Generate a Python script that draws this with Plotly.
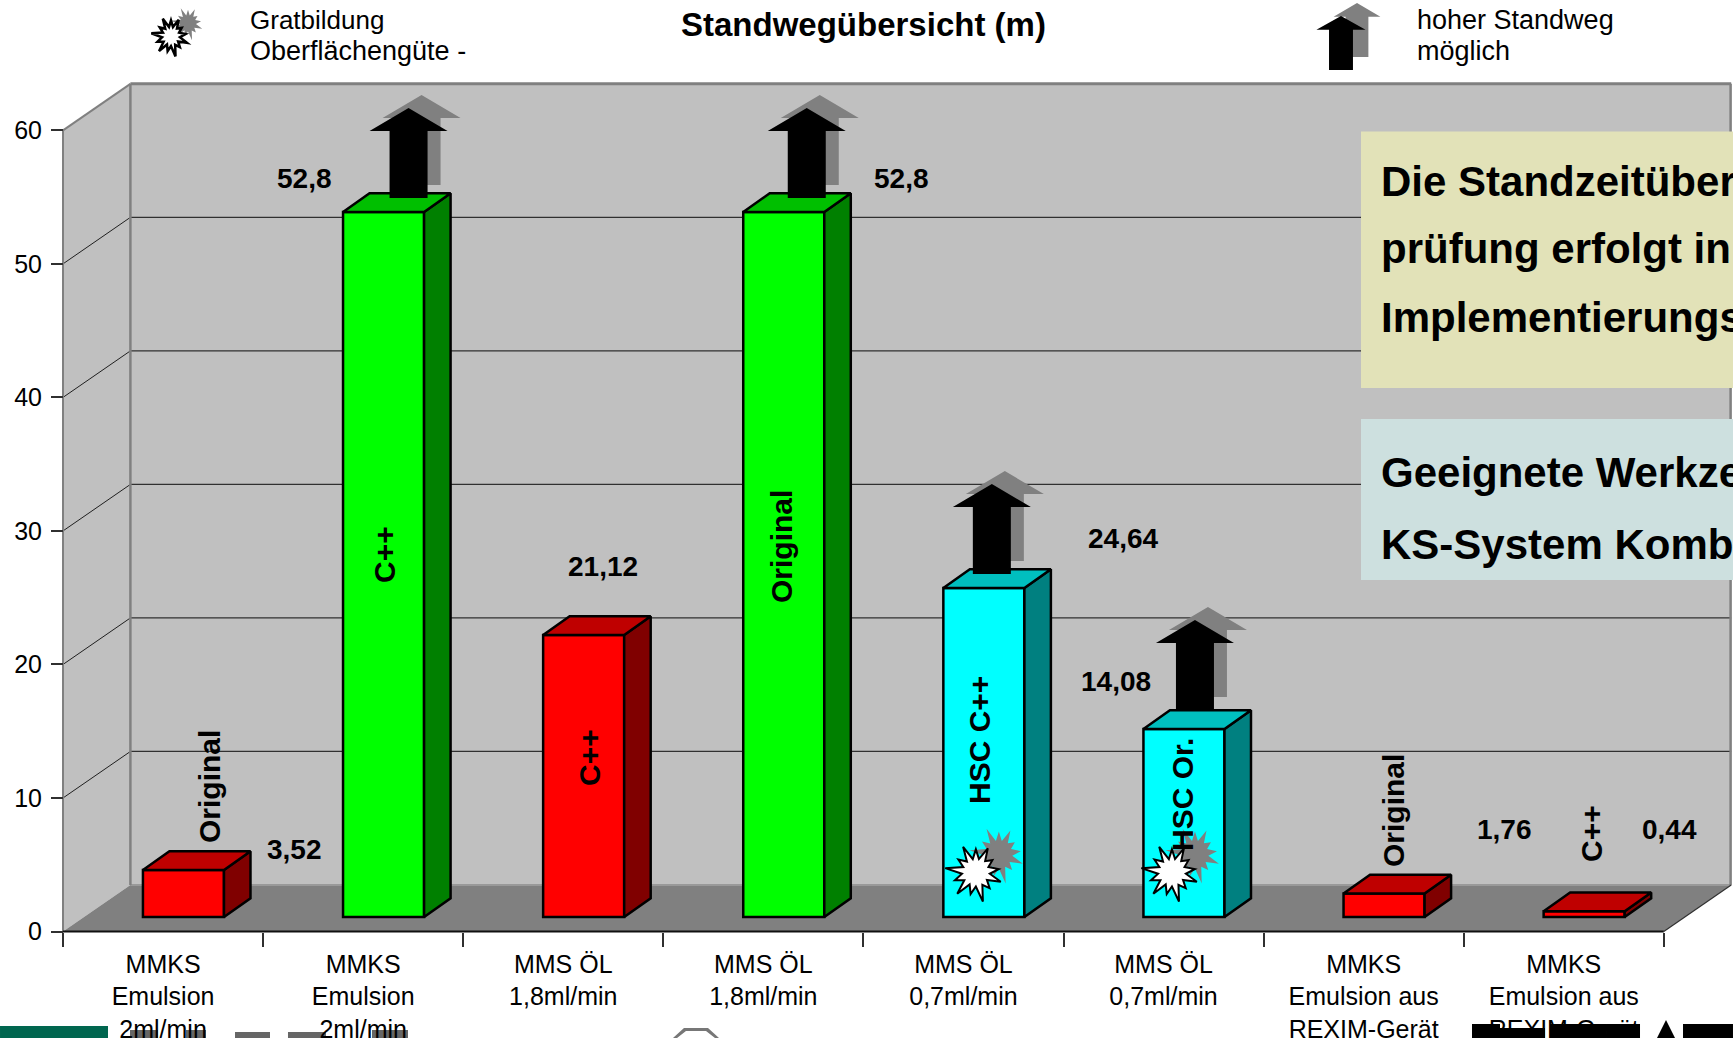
import math
import plotly.graph_objects as go

# Chart data
categories = [
    "MMKS<br>Emulsion<br>2ml/min", "MMKS<br>Emulsion<br>2ml/min",
    "MMS ÖL<br>1,8ml/min", "MMS ÖL<br>1,8ml/min",
    "MMS ÖL<br>0,7ml/min", "MMS ÖL<br>0,7ml/min",
    "MMKS<br>Emulsion aus<br>REXIM-Gerät", "MMKS<br>Emulsion aus<br>REXIM-Gerät",
]
values = [3.52, 52.8, 21.12, 52.8, 24.64, 14.08, 1.76, 0.44]
tools = ["Original", "C++", "C++", "Original", "HSC C++", "HSC Or.", "Original", "C++"]
families = ["red", "green", "red", "green", "cyan", "cyan", "red", "red"]
y_ticks = [0, 10, 20, 30, 40, 50, 60]

# Page and axis geometry
W, H = 1733, 1038
X0, CAT_W = 63.0, 200.1
Y0, UNIT_H = 931.5, 13.353
BAR_SHIFT, BAR_W, BAR_BASE = 0.602, 0.405, 1.08
BAR_DX, BAR_DY = 26.5 / CAT_W, 18.8 / UNIT_H
WALL_DX, WALL_DY = 67.4 / CAT_W, 46.5 / UNIT_H
X_END = 8 + WALL_DX
FONT = "Liberation Sans"

FACE = {
    "red": ("#ff0000", "#bf0000", "#800000"),
    "green": ("#00ff00", "#00bf00", "#008000"),
    "cyan": ("#00ffff", "#00bfbf", "#008080"),
}
ARROW_OUTLINE = [(0, 0), (39, 23), (19, 23), (19, 90), (-19, 90), (-19, 23), (-39, 23)]
BURST_RADII = [0.78, 0.46, 0.92, 0.5, 0.72, 0.48, 0.82, 0.5, 0.95, 0.48, 0.74, 0.5,
               1.05, 0.5, 0.78, 0.48, 1.0, 0.5, 0.8, 0.5, 1.1, 0.48, 0.76, 0.48, 0.98, 0.46]


def ux(px):
    return (px - X0) / CAT_W


def uy(px):
    return (Y0 - px) / UNIT_H


def poly(points):
    return "M " + " L ".join(f"{x:.4f},{y:.4f}" for x, y in points) + " Z"


def area(points, fill, line=None, width=0, layer="below"):
    return dict(type="path", xref="x", yref="y", path=poly(points), fillcolor=fill,
                line=dict(color=line or fill, width=width), layer=layer)


def rule(x0, y0, x1, y1, color, width, layer="below"):
    return dict(type="line", xref="x", yref="y", x0=x0, y0=y0, x1=x1, y1=y1,
                line=dict(color=color, width=width), layer=layer)


def arrow(px_x, px_y, fill, sx=1.0, sy=1.0):
    """Block arrow with its tip at the given page position."""
    return area([(ux(px_x + a * sx), uy(px_y + b * sy)) for a, b in ARROW_OUTLINE], fill, layer="above")


def burst(cx, cy, rx, ry, fill, line=None, width=0):
    n = len(BURST_RADII)
    pts = []
    for i, r in enumerate(BURST_RADII):
        a = 2 * math.pi * i / n
        pts.append((ux(cx + rx * r * math.sin(a)), uy(cy - ry * r * math.cos(a))))
    return area(pts, fill, line, width, "above")


shapes = []

# Walls and floor of the chart box
shapes += [
    area([(WALL_DX, WALL_DY), (X_END, WALL_DY), (X_END, 60 + WALL_DY), (WALL_DX, 60 + WALL_DY)], "#c0c0c0"),
    area([(0, 0), (WALL_DX, WALL_DY), (WALL_DX, 60 + WALL_DY), (0, 60)], "#c0c0c0"),
    area([(0, 0), (8, 0), (X_END, WALL_DY), (WALL_DX, WALL_DY)], "#808080"),
]
for t in y_ticks[1:-1]:
    shapes.append(rule(WALL_DX, t + WALL_DY, X_END, t + WALL_DY, "#303030", 1.2))
    shapes.append(rule(0, t, WALL_DX, t + WALL_DY, "#202020", 1))
shapes += [
    rule(WALL_DX, WALL_DY, X_END, WALL_DY, "#999999", 2),
    rule(0, 60, WALL_DX, 60 + WALL_DY, "#808080", 2),
    rule(0, 0, 0, 60, "#808080", 2),
    rule(WALL_DX, WALL_DY, WALL_DX, 60 + WALL_DY, "#808080", 2.5),
    rule(WALL_DX, 60 + WALL_DY, X_END, 60 + WALL_DY, "#808080", 3),
    rule(X_END - 0.003, WALL_DY, X_END - 0.003, 60 + WALL_DY, "#808080", 2.5),
    rule(0, 0, 8, 0, "#101010", 2),
    rule(8, 0, X_END, WALL_DY, "#303030", 1.2),
]

# Logo fragments along the lower page edge
for x0, x1, y0, color, layer in [
    (0, 108, 1026, "#00664f", "below"),
    (130, 158, 1030, "#666666", "below"),
    (186, 206, 1030, "#666666", "below"),
    (235, 270, 1032, "#666666", "below"),
    (288, 326, 1032, "#666666", "below"),
    (372, 408, 1030, "#666666", "below"),
    (1472, 1500, 1024, "#000000", "above"),
    (1500, 1545, 1028, "#000000", "above"),
    (1550, 1607, 1024, "#000000", "above"),
    (1607, 1640, 1024, "#000000", "above"),
    (1683, 1733, 1024, "#000000", "above"),
]:
    shapes.append(area([(ux(x0), uy(1038)), (ux(x1), uy(1038)), (ux(x1), uy(y0)), (ux(x0), uy(y0))],
                       color, layer=layer))
shapes.append(area([(ux(1657), uy(1038)), (ux(1675), uy(1038)), (ux(1666), uy(1020))], "#000000", layer="above"))
shapes.append(area([(ux(673), uy(1038)), (ux(684), uy(1028)), (ux(708), uy(1028)), (ux(719), uy(1038)),
                    (ux(715), uy(1038)), (ux(706), uy(1031)), (ux(686), uy(1031)), (ux(677), uy(1038))], "#777777"))

# Arrows standing on bars with a high tool life: bar index, x shift, rise in pixels
for i, shift, rise in [(1, 25, 104), (3, 23, 104), (4, 8, 104), (5, 11, 109)]:
    cx = X0 + CAT_W * (i + BAR_SHIFT)
    top = Y0 - UNIT_H * (values[i] + BAR_BASE)
    shapes.append(arrow(cx + shift + 13, top - rise - 13, "#808080"))
    shapes.append(arrow(cx + shift, top - rise, "#000000"))

# Burr markers on the two HSC bars
for i, shift in [(4, -8), (5, -12)]:
    cx = X0 + CAT_W * (i + BAR_SHIFT)
    shapes.append(burst(cx + shift + 23, 854, 27, 29, "#808080"))
    shapes.append(burst(cx + shift, 872, 28, 29, "#ffffff", "#000000", 2))

# Legend icons
shapes.append(burst(188, 23, 16, 17, "#808080"))
shapes.append(burst(171, 36, 18, 20, "#ffffff", "#000000", 2.5))
shapes.append(arrow(1357, 3, "#808080", 0.6, 0.6))
shapes.append(arrow(1341, 16, "#000000", 0.63, 0.6))

# Note panels on the right
shapes.append(area([(ux(1361), uy(131.5)), (ux(1733), uy(131.5)), (ux(1733), uy(388)), (ux(1361), uy(388))],
                   "#e2e2b8", layer="above"))
shapes.append(area([(ux(1361), uy(419)), (ux(1733), uy(419)), (ux(1733), uy(580)), (ux(1361), uy(580))],
                   "#cde0df", layer="above"))

fig = go.Figure()

bar_x = [i + BAR_SHIFT for i in range(len(values))]
fig.add_trace(go.Bar(
    x=bar_x, y=values, base=[BAR_BASE] * len(values), width=BAR_W,
    marker=dict(color=[FACE[f][0] for f in families], line=dict(color="#000000", width=2.5)),
    showlegend=False, hoverinfo="skip",
))

# Extruded top and side faces computed from each bar's value
for x, v, fam in zip(bar_x, values, families):
    xl, xr = x - BAR_W / 2, x + BAR_W / 2
    top = BAR_BASE + v
    fig.add_trace(go.Scatter(
        x=[xr, xr + BAR_DX, xr + BAR_DX, xr, xr],
        y=[BAR_BASE, BAR_BASE + BAR_DY, top + BAR_DY, top, BAR_BASE],
        mode="lines", fill="toself", fillcolor=FACE[fam][2],
        line=dict(color="#000000", width=2.5), showlegend=False, hoverinfo="skip",
    ))
    fig.add_trace(go.Scatter(
        x=[xl, xr, xr + BAR_DX, xl + BAR_DX, xl],
        y=[top, top, top + BAR_DY, top + BAR_DY, top],
        mode="lines", fill="toself", fillcolor=FACE[fam][1],
        line=dict(color="#000000", width=2.5), showlegend=False, hoverinfo="skip",
    ))

annotations = []


def note(px_x, px_y, text, size, bold=False, angle=0, anchor="center"):
    annotations.append(dict(
        x=ux(px_x), y=uy(px_y), xref="x", yref="y", text=text, showarrow=False,
        xanchor=anchor, yanchor="middle", textangle=angle,
        font=dict(family=FONT, size=size, color="#000000", weight="bold" if bold else "normal"),
    ))


# Value labels next to the bars
value_label_pos = [(294, 849), (304, 178), (603, 566), (901, 178),
                   (1123, 538), (1116, 681), (1504, 829), (1669, 829)]
for v, (lx, ly) in zip(values, value_label_pos):
    note(lx, ly, f"{v}".replace(".", ","), 28, bold=True)

# Rotated tool labels
tool_label_pos = [(209, 787), (384, 555), (589, 758), (781, 547),
                  (979, 740), (1182, 795), (1393, 811), (1591, 834)]
for name, (lx, ly) in zip(tools, tool_label_pos):
    note(lx, ly, name, 30, bold=True, angle=-90)

# Heading and legend texts
note(863, 24, "Standwegübersicht (m)", 33, bold=True)
note(248, 20, "Gratbildung", 26, anchor="left")
note(248, 51, "Oberflächengüte -", 27, anchor="left")
note(1415, 20, "hoher Standweg", 27, anchor="left")
note(1415, 51, "möglich", 27, anchor="left")

# Panel texts, running past the page edge
for ly, text in [(181, "Die Standzeitüber"), (248, "prüfung erfolgt in"), (317, "Implementierungs"),
                 (472, "Geeignete Werkze"), (544, "KS-System Komb")]:
    note(1379, ly, text, 42, bold=True, anchor="left")

fig.update_layout(
    width=W, height=H, margin=dict(l=0, r=0, t=0, b=0),
    paper_bgcolor="#ffffff", plot_bgcolor="#ffffff",
    shapes=shapes, annotations=annotations, showlegend=False,
    xaxis=dict(
        range=[ux(0), ux(W)], domain=[0, 1], anchor="free", position=(H - Y0) / H, automargin=False,
        tickmode="array", tickvals=[i + 0.5 for i in range(len(categories))], ticktext=categories,
        ticks="outside", ticklen=0, ticklabelstandoff=10, tickangle=0,
        tickfont=dict(family=FONT, size=25, color="#000000"),
        minor=dict(tickmode="array", tickvals=list(range(len(categories) + 1)),
                   ticks="outside", ticklen=14, tickwidth=1.5, tickcolor="#303030", showgrid=False),
        showgrid=False, zeroline=False, showline=False,
    ),
    yaxis=dict(
        range=[uy(H), uy(0)], domain=[0, 1], anchor="free", position=X0 / W, automargin=False,
        tickmode="array", tickvals=y_ticks, ticks="outside", ticklen=12, tickwidth=1.5,
        tickcolor="#303030", ticklabelstandoff=4,
        tickfont=dict(family=FONT, size=25, color="#000000"),
        showgrid=False, zeroline=False, showline=False,
    ),
)

fig.write_html("out.html")
